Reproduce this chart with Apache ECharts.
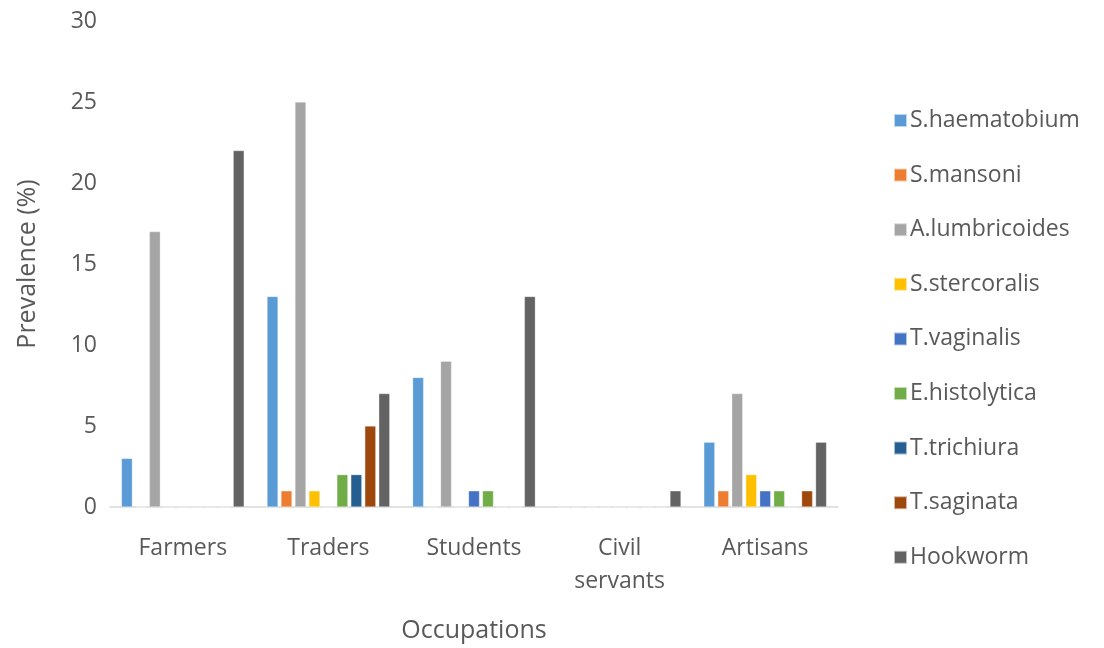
<!DOCTYPE html>
<html>
<head>
<meta charset="utf-8">
<script src="https://cdn.jsdelivr.net/npm/echarts@6/dist/echarts.min.js"></script>
<style>
  html, body { margin: 0; padding: 0; background: #fff; }
  #chart { width: 1104px; height: 648px; }
</style>
</head>
<body>
<div id="chart"></div>
<script>
// Prevalence (%) of parasitic infections by occupation
const occupations = ['Farmers', 'Traders', 'Students', 'Civil\nservants', 'Artisans'];
const yTicks = [0, 5, 10, 15, 20, 25, 30];

const sHaematobium  = [3, 13, 8, 0, 4];
const sMansoni      = [0, 1, 0, 0, 1];
const aLumbricoides = [17, 25, 9, 0, 7];
const sStercoralis  = [0, 1, 0, 0, 2];
const tVaginalis    = [0, 0, 1, 0, 1];
const eHistolytica  = [0, 2, 1, 0, 1];
const tTrichiura    = [0, 2, 0, 0, 0];
const tSaginata     = [0, 5, 0, 0, 1];
const hookworm      = [22, 7, 13, 1, 4];

const seriesDefs = [
  ['S.haematobium', sHaematobium, '#5B9BD5'],
  ['S.mansoni', sMansoni, '#ED7D31'],
  ['A.lumbricoides', aLumbricoides, '#A5A5A5'],
  ['S.stercoralis', sStercoralis, '#FFC000'],
  ['T.vaginalis', tVaginalis, '#4472C4'],
  ['E.histolytica', eHistolytica, '#70AD47'],
  ['T.trichiura', tTrichiura, '#255E91'],
  ['T.saginata', tSaginata, '#9E480E'],
  ['Hookworm', hookworm, '#636363']
];

const textColor = '#595959';
const fontFamily = '"Open Sans", "Liberation Sans", sans-serif';

const chart = echarts.init(document.getElementById('chart'));
chart.setOption({
  animation: false,
  textStyle: { fontFamily: fontFamily, color: textColor },
  grid: { left: 110, right: 266, top: 21, bottom: 140, containLabel: false },
  legend: {
    orient: 'vertical',
    left: 888,
    top: 104,
    itemWidth: 13,
    itemHeight: 13,
    itemGap: 31.6,
    icon: 'rect',
    textStyle: { fontSize: 23, color: textColor, fontFamily: fontFamily, padding: [0, 0, 0, -2] },
    data: seriesDefs.map(d => d[0])
  },
  xAxis: {
    type: 'category',
    data: occupations,
    name: 'Occupations',
    nameLocation: 'middle',
    nameGap: 111,
    nameTextStyle: { fontSize: 25, color: textColor },
    axisLine: { show: true, lineStyle: { color: '#D9D9D9', width: 1.5 } },
    axisTick: { show: false },
    axisLabel: { fontSize: 23, color: textColor, margin: 25, lineHeight: 33 }
  },
  yAxis: {
    type: 'value',
    min: yTicks[0],
    max: yTicks[yTicks.length - 1],
    interval: 5,
    name: 'Prevalence (%)',
    nameLocation: 'middle',
    nameGap: 70,
    nameTextStyle: { fontSize: 25, color: textColor },
    axisLine: { show: false },
    axisTick: { show: false },
    splitLine: { show: false },
    axisLabel: { fontSize: 23, color: textColor, margin: 13 }
  },
  series: seriesDefs.map(([name, data, color]) => ({
    name: name,
    type: 'bar',
    data: data,
    barWidth: 11,
    barGap: '27%',
    itemStyle: { color: color, borderColor: 'rgba(255,255,255,0.6)', borderWidth: 0.5 }
  }))
});
</script>
</body>
</html>
